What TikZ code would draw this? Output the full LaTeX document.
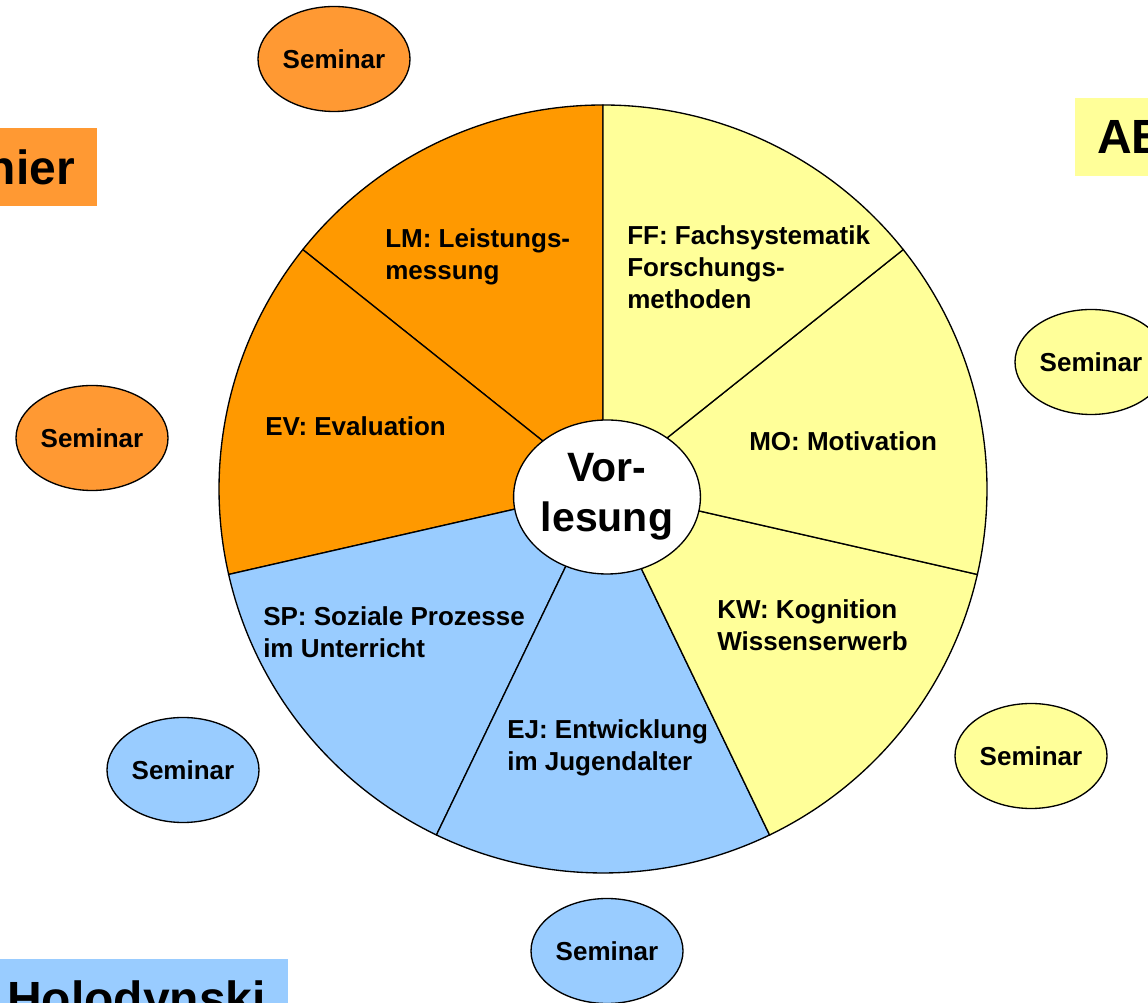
\documentclass[tikz,border=0pt]{standalone}
\usepackage{fontspec}
\setmainfont{Liberation Sans}
\usetikzlibrary{shapes.geometric}
\definecolor{segorange}{HTML}{FF9900}
\definecolor{segyellow}{HTML}{FFFF99}
\definecolor{segblue}{HTML}{99CCFF}
\definecolor{semorange}{HTML}{FF9933}
\tikzset{
  seminar/.style={ellipse, draw, line width=1pt, minimum width=114pt, minimum height=78.75pt,
    inner sep=0pt, font=\fontsize{19.5}{24}\bfseries},
  segtext/.style={anchor=north west, inner sep=0pt, align=left, font=\fontsize{19.5}{24}\bfseries},
  boxtitle/.style={inner xsep=16.5pt, inner ysep=0pt, minimum height=58.5pt, text depth=0pt,
    font=\fontsize{36}{43}\bfseries}
}

\begin{document}
\begin{tikzpicture}[x=0.75pt, y=0.75pt]
\clip (0,0) rectangle (1148,1002);
\coordinate (C) at (603,513);
% the seven parts of the wheel
\foreach \a/\b/\c in {90/141.43/segorange, 141.43/192.86/segorange, 192.86/244.29/segblue,
    244.29/295.71/segblue, -64.29/-12.86/segyellow, -12.86/38.57/segyellow, 38.57/90/segyellow}
  \filldraw[fill=\c, draw=black, line width=1pt] (C) -- ++(\a:384) arc[start angle=\a, end angle=\b, radius=384] -- cycle;
\node[ellipse, draw, fill=white, line width=1pt, minimum width=136.5pt, minimum height=115.5pt,
  inner sep=0pt, align=center, font=\fontsize{30.75}{37.5}\bfseries] (vorl) at (607,505) {Vor-\\lesung};

\node[segtext] (lm) at (385,774) {LM: Leistungs-\\messung};
\node[segtext] (ev) at (265,586) {EV: Evaluation};
\node[segtext] (ff) at (627,777) {FF: Fachsystematik\\Forschungs-\\methoden};
\node[segtext] (mo) at (749,571) {MO: Motivation};
\node[segtext] (kw) at (717,403) {KW: Kognition\\Wissenserwerb};
\node[segtext] (ej) at (507,283) {EJ: Entwicklung\\im Jugendalter};
\node[segtext] (sp) at (263,396) {SP: Soziale Prozesse\\im Unterricht};

% seminars round the wheel
\node[seminar, fill=semorange] (semtop) at (334,943) {Seminar};
\node[seminar, fill=semorange] (semleft) at (92,564) {Seminar};
\node[seminar, fill=segyellow] (semrighttop) at (1091,640) {Seminar};
\node[seminar, fill=segyellow] (semright) at (1031,246) {Seminar};
\node[seminar, fill=segblue] (semblue) at (183,232) {Seminar};
\node[seminar, fill=segblue] (sembottom) at (607,51) {Seminar};

% names, cut by the page edge
\node[boxtitle, fill=semorange, anchor=east] (titlehier) at (97,835) {hier};
\node[boxtitle, fill=segyellow, anchor=west] (titleab) at (1075,865) {AB};
\node[boxtitle, fill=segblue, anchor=north east] (titleholo) at (288,43) {Holodynski};
\end{tikzpicture}
\end{document}
